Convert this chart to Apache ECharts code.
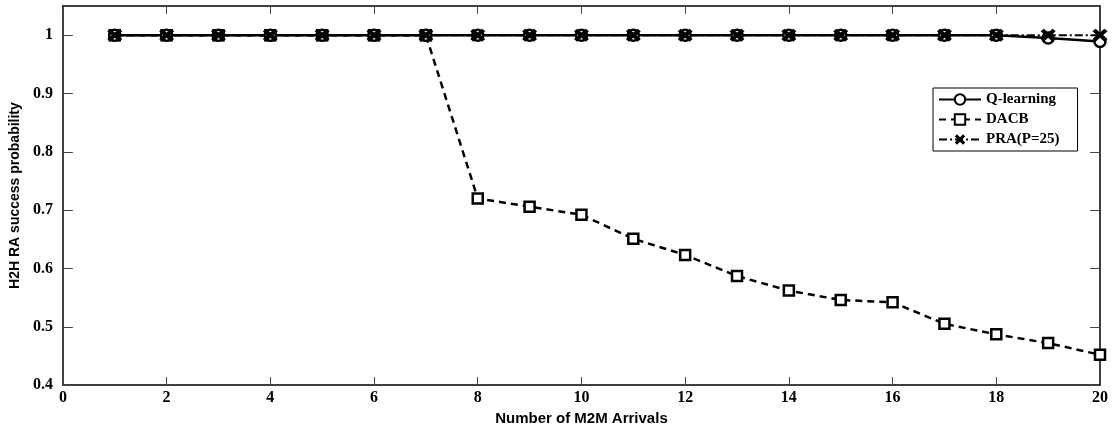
<!DOCTYPE html>
<html>
<head>
<meta charset="utf-8">
<script src="https://cdn.jsdelivr.net/npm/echarts@6/dist/echarts.min.js"></script>
<style>
  html, body { margin: 0; padding: 0; background: #fff; }
  #chart { width: 1112px; height: 431px; }
</style>
</head>
<body>
<div id="chart"></div>
<script>
// Number of M2M arrivals (x positions)
const arrivals = [1, 2, 3, 4, 5, 6, 7, 8, 9, 10, 11, 12, 13, 14, 15, 16, 17, 18, 19, 20];

// H2H RA success probability per scheme
const qLearning = [1, 1, 1, 1, 1, 1, 1, 1, 1, 1, 1, 1, 1, 1, 1, 1, 1, 1, 0.995, 0.989];
const dacb = [1, 1, 1, 1, 1, 1, 1, 0.72, 0.706, 0.692, 0.651, 0.623, 0.587, 0.562, 0.546, 0.542, 0.505, 0.487, 0.472, 0.452];
const pra = [1, 1, 1, 1, 1, 1, 1, 1, 1, 1, 1, 1, 1, 1, 1, 1, 1, 1, 1, 1];

const seriesNames = ['Q-learning', 'DACB', 'PRA(P=25)'];

const pairs = ys => arrivals.map((x, i) => [x, ys[i]]);

const serifBold = { fontFamily: 'Liberation Serif', fontWeight: 'bold', color: '#000' };
// filled "x" glyph for the PRA markers
const crossPath = 'path://M0,2.5 L2.5,0 L6,3.5 L9.5,0 L12,2.5 L8.5,6 L12,9.5 L9.5,12 L6,8.5 L2.5,12 L0,9.5 L3.5,6 Z';

const frameLine = { onZero: false, lineStyle: { color: '#000', width: 1.5 } };
const tickStyle = len => ({ show: true, inside: true, length: len, lineStyle: { color: '#444', width: 1 } });

const chart = echarts.init(document.getElementById('chart'), null, { renderer: 'canvas' });

chart.setOption({
  backgroundColor: '#fff',
  animation: false,
  grid: { left: 61, right: 12, top: 6, bottom: 38, containLabel: false },
  legend: {
    orient: 'vertical',
    left: 933,
    top: 88,
    width: 140,
    itemWidth: 42,
    itemHeight: 13,
    itemGap: 5,
    padding: [4, 18, 4, 5],
    borderColor: '#000',
    borderWidth: 1,
    backgroundColor: '#fff',
    data: seriesNames,
    textStyle: Object.assign({ fontSize: 15 }, serifBold)
  },
  xAxis: [
    {
      type: 'value',
      position: 'bottom',
      min: 0, max: 20, interval: 2,
      name: 'Number of M2M Arrivals',
      nameLocation: 'middle',
      nameGap: 22,
      nameTextStyle: { fontFamily: 'Liberation Sans', fontWeight: 'bold', fontSize: 15, color: '#000' },
      axisLine: Object.assign({ show: true }, frameLine),
      axisTick: tickStyle(8),
      axisLabel: Object.assign({ fontSize: 16, margin: 5 }, serifBold),
      splitLine: { show: false }
    },
    {
      type: 'value',
      position: 'top',
      min: 0, max: 20, interval: 2,
      axisLine: Object.assign({ show: true }, frameLine),
      axisTick: tickStyle(8),
      axisLabel: { show: false },
      splitLine: { show: false }
    }
  ],
  yAxis: [
    {
      type: 'value',
      position: 'left',
      min: 0.4, max: 1.05, interval: 0.1,
      name: 'H2H RA success probability',
      nameLocation: 'middle',
      nameGap: 38,
      nameTextStyle: { fontFamily: 'Liberation Sans', fontWeight: 'bold', fontSize: 14, color: '#000' },
      axisLine: Object.assign({ show: true }, frameLine),
      axisTick: tickStyle(10),
      axisLabel: Object.assign({
        fontSize: 16, margin: 10, showMaxLabel: false,
        formatter: v => (Math.abs(v * 10 - Math.round(v * 10)) < 1e-6 ? (Math.round(v * 10) / 10).toString() : '')
      }, serifBold),
      splitLine: { show: false }
    },
    {
      type: 'value',
      position: 'right',
      min: 0.4, max: 1.05, interval: 0.1,
      axisLine: Object.assign({ show: true }, frameLine),
      axisTick: tickStyle(10),
      axisLabel: { show: false },
      splitLine: { show: false }
    }
  ],
  series: [
    {
      name: 'DACB',
      type: 'line',
      data: pairs(dacb),
      symbol: 'rect',
      symbolSize: 10,
      showAllSymbol: true,
      lineStyle: { color: '#000', width: 2.5, type: [7, 5] },
      itemStyle: { color: '#fff', borderColor: '#000', borderWidth: 2.5 },
      z: 2
    },
    {
      name: 'Q-learning',
      type: 'line',
      data: pairs(qLearning),
      symbol: 'circle',
      symbolSize: 11,
      showAllSymbol: true,
      lineStyle: { color: '#000', width: 2.5, type: 'solid' },
      itemStyle: { color: '#fff', borderColor: '#000', borderWidth: 2.5 },
      z: 3
    },
    {
      name: 'PRA(P=25)',
      type: 'line',
      data: pairs(pra),
      symbol: crossPath,
      symbolSize: [15, 13],
      showAllSymbol: true,
      lineStyle: { color: '#000', width: 2, type: [8, 3, 2, 3] },
      itemStyle: { color: '#000', borderWidth: 0 },
      z: 4
    }
  ]
});
</script>
</body>
</html>
